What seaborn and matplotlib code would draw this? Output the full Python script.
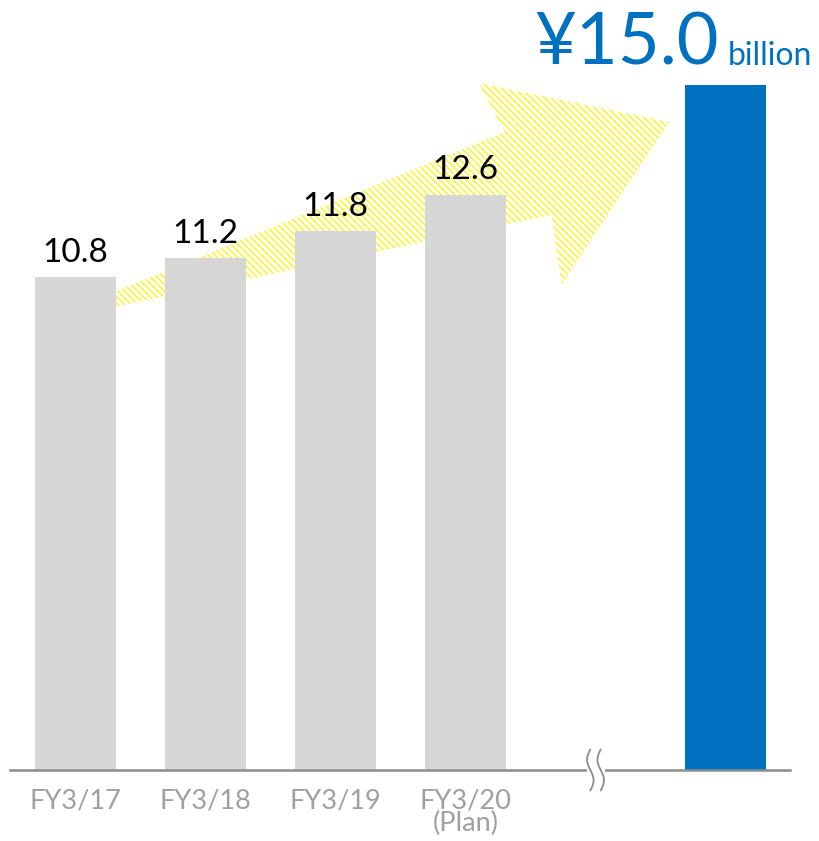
import numpy as np
import pandas as pd
import matplotlib
matplotlib.use("Agg")
import matplotlib.pyplot as plt
import seaborn as sns
from matplotlib.patches import Polygon

# data
periods = ["FY3/17", "FY3/18", "FY3/19", "FY3/20\n(Plan)", "", "Target"]
values = [10.8, 11.2, 11.8, 12.6, np.nan, 15.0]
bar_colors = ["#D6D6D6", "#D6D6D6", "#D6D6D6", "#D6D6D6", "#FFFFFF", "#0070C0"]
value_labels = ["10.8", "11.2", "11.8", "12.6"]
target_label = "¥15.0"
unit_label = "billion"

# arrow outline (x in bar slots, y in value units)
arrow_x = [0.30, 0.30, 3.30, 3.10, 4.57, 3.74, 3.66]
arrow_y = [10.14, 10.47, 13.97, 15.04, 14.19, 10.62, 12.15]

sns.set_theme(style="white")
plt.rcParams['font.family'] = ['Lato', 'DejaVu Sans']
plt.rcParams['hatch.linewidth'] = 1.25

df = pd.DataFrame({"period": periods, "value": values})

fig = plt.figure(figsize=(8.19, 8.41), dpi=100)
ax = fig.add_axes([10 / 819, 71 / 841, 780 / 819, 770 / 841])

# hatched arrow behind the bars
arrow = Polygon(np.column_stack([arrow_x, arrow_y]), closed=True,
                facecolor="none", edgecolor="#FAF53C", linewidth=0,
                hatch="\\\\\\\\\\", zorder=1)
ax.add_patch(arrow)

sns.barplot(data=df, x="period", y="value", hue="period", palette=bar_colors,
            width=0.62, legend=False, saturation=1, linewidth=0, ax=ax, zorder=2)

ax.set_xlim(-0.504, 5.496)
ax.set_ylim(0, 16.86)

# value labels
for i, txt in enumerate(value_labels):
    ax.text(i, values[i] + 0.2, txt, ha="center", va="bottom",
            fontsize=24, color="black", zorder=3)

# target label
ax.annotate(target_label, xy=(5, values[5]), xytext=(-5, 14.5),
            textcoords="offset points", ha="right", va="baseline",
            fontsize=52, color="#0070C0", zorder=3, annotation_clip=False)
ax.annotate(unit_label, xy=(5, values[5]), xytext=(1.5, 14.5),
            textcoords="offset points", ha="left", va="baseline",
            fontsize=23, color="#0070C0", zorder=3, annotation_clip=False)

# axes styling
for s in ["top", "right", "left"]:
    ax.spines[s].set_visible(False)
ax.spines["bottom"].set_color("#8C8C8C")
ax.spines["bottom"].set_linewidth(1.8)
ax.set_yticks([])
ax.set_xticks(range(4), periods[:4])
ax.tick_params(axis="x", length=0, pad=13, labelsize=19.5, labelcolor="#A0A0A0")
for lab in ax.get_xticklabels():
    lab.set_linespacing(0.9)
ax.set_xlabel("")
ax.set_ylabel("")

# axis break mark
t = np.linspace(-1, 1, 50)
for dx in (-0.04, 0.04):
    ax.plot(4 + dx + 0.025 * np.sin(t * np.pi), -0.45 * t,
            color="#8C8C8C", lw=1.3, clip_on=False, zorder=4)
ax.plot([3.94, 4.06], [0, 0], color="white", lw=2.5, clip_on=False, zorder=3)

fig.savefig("out.png", dpi=100)
